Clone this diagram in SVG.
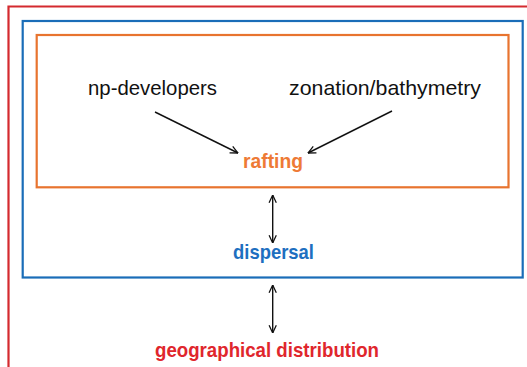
<svg xmlns="http://www.w3.org/2000/svg" width="527" height="367" viewBox="0 0 527 367">
<style>
.box{fill:none;stroke-width:2.2}
.lbl{font-family:"Liberation Sans",Arial,sans-serif;font-size:21px;fill:#111}
.b{font-family:"Liberation Sans",Arial,sans-serif;font-weight:bold;font-size:21px;text-anchor:middle}
.c{stroke:#111;stroke-width:1.4;fill:none}
</style>
<defs>
<marker id="ah" viewBox="0 0 10 10" refX="9.5" refY="5" markerWidth="9" markerHeight="9" markerUnits="userSpaceOnUse" orient="auto-start-reverse">
<path d="M1,1 L9.5,5 L1,9" fill="none" stroke="#111" stroke-width="1.4"/>
</marker>
</defs>
<rect width="527" height="367" fill="#fff"/>
<g id="geographical-distribution">
<path class="box" stroke="#d42a2f" d="M8.5,370 V6.5 H530"/>
<text class="b" x="267" y="357" fill="#e0262c" textLength="224" lengthAdjust="spacingAndGlyphs">geographical distribution</text>
</g>
<g id="dispersal">
<rect class="box" stroke="#1a6db8" x="22.7" y="21" width="500" height="256.5"/>
<text class="b" x="273.5" y="259" fill="#1e6fc0" textLength="81" lengthAdjust="spacingAndGlyphs">dispersal</text>
</g>
<g id="rafting">
<rect class="box" stroke="#e8742f" x="36.7" y="35" width="471.8" height="152.3"/>
<text class="b" x="273" y="168" fill="#ee7a35" textLength="60" lengthAdjust="spacingAndGlyphs">rafting</text>
</g>
<g id="np-developers">
<text class="lbl" x="88" y="95" textLength="129" lengthAdjust="spacingAndGlyphs">np-developers</text>
</g>
<g id="zonation-bathymetry">
<text class="lbl" x="289" y="95" textLength="192" lengthAdjust="spacingAndGlyphs">zonation/bathymetry</text>
</g>
<g id="connectors">
<line class="c" x1="155" y1="112" x2="238" y2="153" marker-end="url(#ah)"/>
<line class="c" x1="392" y1="111" x2="308" y2="153" marker-end="url(#ah)"/>
<line class="c" x1="272.7" y1="195" x2="272.7" y2="243" marker-start="url(#ah)" marker-end="url(#ah)"/>
<line class="c" x1="272.7" y1="285" x2="272.7" y2="333" marker-start="url(#ah)" marker-end="url(#ah)"/>
</g>
</svg>
